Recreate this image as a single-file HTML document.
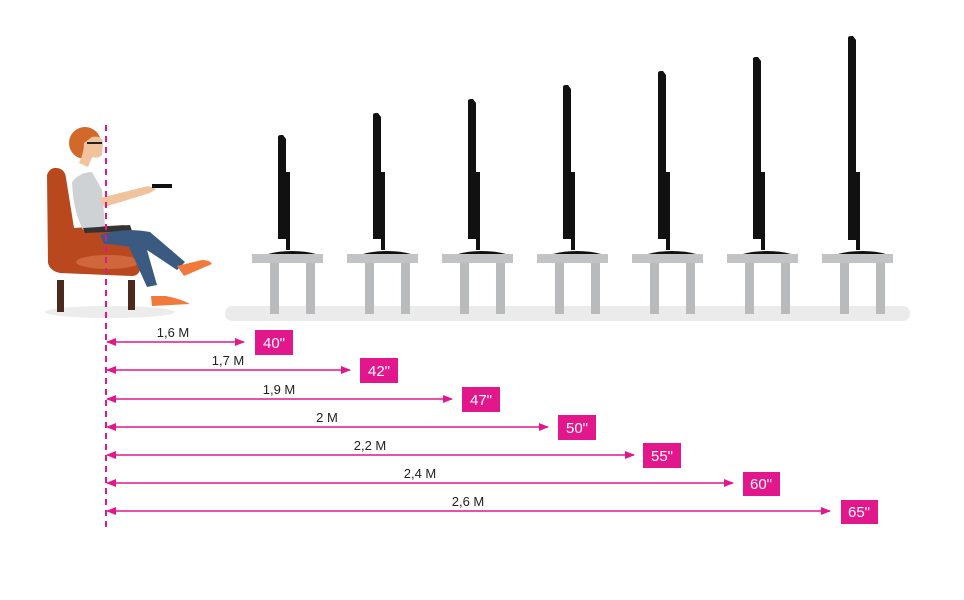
<!DOCTYPE html>
<html><head><meta charset="utf-8"><style>
html,body{margin:0;padding:0;background:#fff;}
svg{display:block;}
text{font-family:"Liberation Sans",sans-serif;}
</style></head><body>
<svg width="964" height="600" viewBox="0 0 964 600" xmlns="http://www.w3.org/2000/svg">
<defs>
<g id="tbl">
  <rect x="0" y="254" width="71" height="9" fill="#c2c3c5"/>
  <rect x="18" y="263" width="9" height="51" fill="#b9babc"/>
  <rect x="54" y="263" width="9" height="51" fill="#b9babc"/>
</g>
<marker id="ah" markerWidth="10" markerHeight="8" refX="9" refY="4" orient="auto" markerUnits="userSpaceOnUse"><path d="M0,0 L10,4 L0,8 z" fill="#e2178c"/></marker>
<marker id="at" markerWidth="10" markerHeight="8" refX="1" refY="4" orient="auto" markerUnits="userSpaceOnUse"><path d="M10,0 L0,4 L10,8 z" fill="#e2178c"/></marker>
</defs>
<rect x="225" y="306" width="685" height="15" rx="7" fill="#ebebec"/>
<ellipse cx="110" cy="312" rx="65" ry="6" fill="#ececec"/>
<use href="#tbl" x="252"/><use href="#tbl" x="347"/><use href="#tbl" x="442"/><use href="#tbl" x="537"/><use href="#tbl" x="632"/><use href="#tbl" x="727"/><use href="#tbl" x="822"/>
<g fill="#111">
<path d="M278,137 q0,-2 3,-2 h2 l3,4 v100 h-8z"/><path d="M286,172 h4 v78 h-4z"/><path d="M268,254 q10,-3 24,-3 q14,0 24,3z"/>
<path d="M373,115 q0,-2 3,-2 h2 l3,4 v122 h-8z"/><path d="M381,172 h4 v78 h-4z"/><path d="M363,254 q10,-3 24,-3 q14,0 24,3z"/>
<path d="M468,101 q0,-2 3,-2 h2 l3,4 v136 h-8z"/><path d="M476,172 h4 v78 h-4z"/><path d="M458,254 q10,-3 24,-3 q14,0 24,3z"/>
<path d="M563,87 q0,-2 3,-2 h2 l3,4 v150 h-8z"/><path d="M571,172 h4 v78 h-4z"/><path d="M553,254 q10,-3 24,-3 q14,0 24,3z"/>
<path d="M658,73 q0,-2 3,-2 h2 l3,4 v164 h-8z"/><path d="M666,172 h4 v78 h-4z"/><path d="M648,254 q10,-3 24,-3 q14,0 24,3z"/>
<path d="M753,59 q0,-2 3,-2 h2 l3,4 v178 h-8z"/><path d="M761,172 h4 v78 h-4z"/><path d="M743,254 q10,-3 24,-3 q14,0 24,3z"/>
<path d="M848,38 q0,-2 3,-2 h2 l3,4 v200 h-8z"/><path d="M856,172 h4 v78 h-4z"/><path d="M838,254 q10,-3 24,-3 q14,0 24,3z"/>
</g>
<rect x="57" y="280" width="7" height="32" fill="#4a2a1c"/>
<rect x="128" y="280" width="7" height="30" fill="#4a2a1c"/>
<path d="M47,175 q3,-8 10,-7 q8,1 9,10 l8,50 l50,-3 q10,5 14,17 q5,10 2,28 q-2,6 -8,6 l-72,-3 q-10,-2 -12,-10z" fill="#b9481f"/>
<ellipse cx="108" cy="262" rx="32" ry="7" fill="#d0663c"/>
<path d="M72,182 q8,-10 20,-10 l10,18 l3,36 l-22,4 q-10,-20 -11,-48z" fill="#cfd2d4"/>
<path d="M100,198 l48,-12 l8,3 l-6,4 l-46,14z" fill="#f0c39c"/>
<rect x="152" y="184" width="20" height="4" fill="#111"/>
<path d="M83,228 l47,-3 l2,6 l-47,2z" fill="#333"/>
<path d="M100,235 q25,-8 50,-3 l35,30 l-8,8 l-30,-20 l10,35 l-10,2 l-18,-40 q-15,-3 -25,-3z" fill="#3b5a82"/>
<path d="M177,266 l25,-6 q8,0 10,4 l-28,12z" fill="#f07a3c"/>
<path d="M151,296 h15 q15,3 24,8 l-38,2z" fill="#f07a3c"/>
<circle cx="85" cy="143" r="16" fill="#d2692a"/>
<path d="M92,137 q10,-2 11,6 l-1,12 q-4,4 -10,2 l-4,10 l-9,-4 q5,-10 5,-20z" fill="#f0c39c"/>
<path d="M87,143 h15" stroke="#222" stroke-width="2"/>
<line x1="106" y1="125" x2="106" y2="528" stroke="#e2178c" stroke-width="2" stroke-dasharray="6,5"/>
<g stroke="#e2178c" stroke-width="1.6" fill="none">
<line x1="107" y1="342" x2="244" y2="342" marker-end="url(#ah)" marker-start="url(#at)"/>
<line x1="107" y1="370" x2="350" y2="370" marker-end="url(#ah)" marker-start="url(#at)"/>
<line x1="107" y1="399" x2="452" y2="399" marker-end="url(#ah)" marker-start="url(#at)"/>
<line x1="107" y1="427" x2="548" y2="427" marker-end="url(#ah)" marker-start="url(#at)"/>
<line x1="107" y1="455" x2="634" y2="455" marker-end="url(#ah)" marker-start="url(#at)"/>
<line x1="107" y1="483" x2="733" y2="483" marker-end="url(#ah)" marker-start="url(#at)"/>
<line x1="107" y1="511" x2="830" y2="511" marker-end="url(#ah)" marker-start="url(#at)"/>
</g>
<g font-size="13" fill="#222" text-anchor="middle">
<text x="173" y="337">1,6 M</text>
<text x="228" y="365">1,7 M</text>
<text x="279" y="394">1,9 M</text>
<text x="327" y="422">2 M</text>
<text x="370" y="450">2,2 M</text>
<text x="420" y="478">2,4 M</text>
<text x="468" y="506">2,6 M</text>
</g>
<g fill="#e2178c">
<rect x="255" y="330" width="38" height="25"/>
<rect x="360" y="358" width="38" height="25"/>
<rect x="462" y="387" width="38" height="25"/>
<rect x="558" y="415" width="38" height="25"/>
<rect x="643" y="443" width="38" height="25"/>
<rect x="743" y="472" width="37" height="24"/>
<rect x="841" y="500" width="37" height="24"/>
</g>
<g font-size="15" fill="#fff" text-anchor="middle">
<text x="274" y="348">40"</text>
<text x="379" y="376">42"</text>
<text x="481" y="405">47"</text>
<text x="577" y="433">50"</text>
<text x="662" y="461">55"</text>
<text x="761" y="489">60"</text>
<text x="859" y="517">65"</text>
</g>
</svg>
</body></html>
